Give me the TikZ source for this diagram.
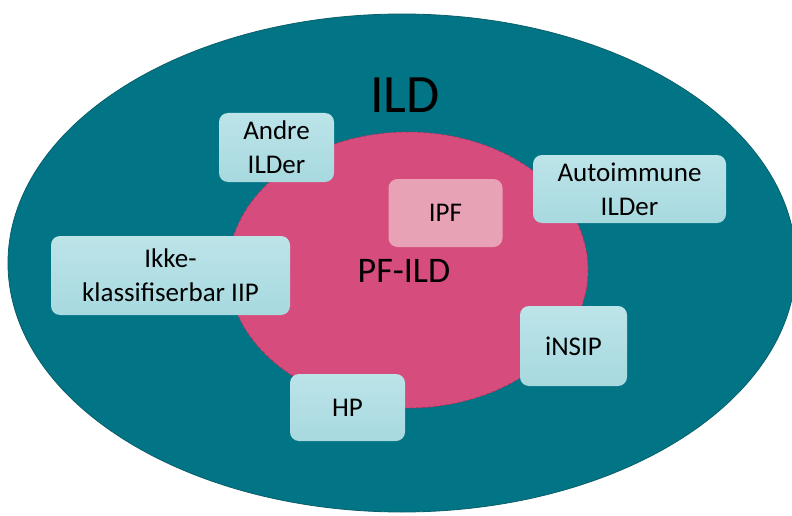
\documentclass[tikz,border=0pt]{standalone}
\usepackage{fontspec}
\setmainfont{Carlito}
\begin{document}
\begin{tikzpicture}[x=1pt,y=-1pt,
  boxstyle/.style={rounded corners=9pt, top color=boxtop, bottom color=boxbot, draw=none,
     align=center, inner sep=0pt, font=\fontsize{27}{34}\selectfont, text=black},
  ipfstyle/.style={rounded corners=9pt, fill=ipfpink, draw=none, align=center, inner sep=0pt,
     font=\fontsize{27}{34}\selectfont}]
\definecolor{teal}{HTML}{017585}
\definecolor{tealedge}{HTML}{0A5E6A}
\definecolor{pinkfill}{HTML}{D64C7C}
\definecolor{pinkedge}{HTML}{A8345C}
\definecolor{boxtop}{HTML}{BCE4E9}
\definecolor{boxbot}{HTML}{A7D9DF}
\definecolor{ipfpink}{HTML}{E8A2B6}
\useasboundingbox (0,0) rectangle (792,516);
\fill[white] (0,0) rectangle (792,516);
\draw[fill=teal, draw=tealedge, line width=0.8pt] (402,263) ellipse [x radius=394, y radius=249];
\draw[fill=pinkfill, draw=pinkedge, dashed, line width=0.8pt] (408,270) ellipse [x radius=180, y radius=138];
\node[font=\fontsize{54}{60}\selectfont, anchor=base] (ild) at (405,113) {ILD};
\node[font=\fontsize{36}{40}\selectfont, anchor=base] (pfild) at (404,282) {PF-ILD};
\node[ipfstyle, minimum width=114pt, minimum height=68pt] (ipf) at (445.5,213) {IPF};
\node[boxstyle, minimum width=115pt, minimum height=69pt] (andre) at (276.5,147.5) {Andre\\ILDer};
\node[boxstyle, minimum width=193pt, minimum height=68pt] (auto) at (629.5,189) {Autoimmune\\ILDer};
\node[boxstyle, minimum width=239pt, minimum height=79pt] (ikke) at (170.5,275.5) {Ikke-\\klassifiserbar IIP};
\node[boxstyle, minimum width=115pt, minimum height=67pt] (hp) at (347.5,407.5) {HP};
\node[boxstyle, minimum width=107pt, minimum height=80pt] (insip) at (573.5,346) {iNSIP};
\end{tikzpicture}
\end{document}
